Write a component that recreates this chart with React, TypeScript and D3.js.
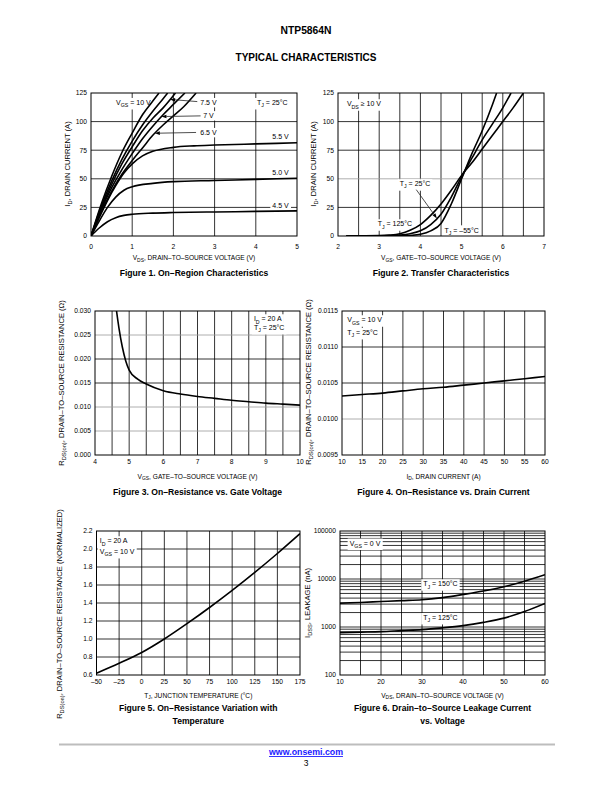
import React, { useLayoutEffect, useRef, useState } from "react";
import * as d3 from "d3";

type Pt = [number, number];
const FONT = "'Liberation Sans', Arial, Helvetica, sans-serif";

// ---------- Figure 1: On-Region Characteristics (ID [A] vs VDS [V]) ----------
const f1Vgs10: Pt[] = [[0,0],[0.25,28],[0.5,52],[0.75,73],[1,90],[1.25,106],[1.5,118],[1.65,125]];
const f1Vgs8: Pt[] = [[0,0],[0.25,26],[0.5,48],[0.75,67],[1,83],[1.25,97],[1.5,109],[1.75,120],[1.86,125]];
const f1Vgs75: Pt[] = [[0,0],[0.25,24],[0.5,45],[0.75,63],[1,78],[1.25,92],[1.5,103],[1.75,112],[2.05,125]];
const f1Vgs7: Pt[] = [[0,0],[0.25,23],[0.5,42],[0.75,58],[1,72],[1.25,85],[1.5,96],[1.75,106],[2,115],[2.28,125]];
const f1Vgs65: Pt[] = [[0,0],[0.25,21],[0.5,39],[0.75,54],[1,66],[1.25,77],[1.5,88],[1.75,97],[2,105],[2.25,113],[2.55,125]];
const f1Vgs55: Pt[] = [[0,0],[0.2,16],[0.4,31],[0.6,44],[0.8,55],[1,63],[1.25,70],[1.5,74],[2,77.5],[2.5,78.8],[3,79.5],[4,80.5],[5,81.5]];
const f1Vgs50: Pt[] = [[0,0],[0.2,13],[0.4,25],[0.6,34],[0.8,40],[1,43],[1.5,46],[2,47.5],[3,48.5],[4,49.5],[5,50.5]];
const f1Vgs45: Pt[] = [[0,0],[0.2,7],[0.4,12.5],[0.6,16],[0.8,18],[1,19],[1.5,20],[2,20.5],[3,21],[4,21.5],[5,22]];
const f1XTicks = [0, 1, 2, 3, 4, 5];
const f1YTicks = [0, 25, 50, 75, 100, 125];
const f1XGrid = [1, 2, 3, 4];
const f1YGrid = [25, 50, 75, 100];

// ---------- Figure 2: Transfer Characteristics (ID [A] vs VGS [V]) ----------
const f2Tj125: Pt[] = [[2.2,0],[3,0.3],[3.25,0.8],[3.5,2],[3.75,5],[4,10],[4.25,18],[4.5,28],[4.75,40],[5,53],[5.25,64],[5.5,76],[5.75,88],[6,100],[6.25,112],[6.5,125]];
const f2Tj25: Pt[] = [[2.2,0],[3,0.1],[3.25,0.3],[3.5,0.8],[3.75,2],[4,4.5],[4.25,10],[4.5,19],[4.75,34],[5,52],[5.25,68],[5.5,84],[5.75,98],[6,112],[6.2,125]];
const f2TjM55: Pt[] = [[2.2,0],[3.5,0.1],[3.75,0.5],[4,1.5],[4.25,4.5],[4.5,11],[4.75,28],[5,50],[5.25,72],[5.5,92],[5.75,115],[5.85,125]];
const f2XTicks = [2, 3, 4, 5, 6, 7];
const f2YTicks = [0, 25, 50, 75, 100, 125];
const f2XGrid = [2.5, 3, 3.5, 4, 4.5, 5, 5.5, 6, 6.5];
const f2YGrid = [25, 50, 75, 100];

// ---------- Figure 3: RDS(on) [ohm] vs VGS [V] ----------
const f3Rds: Pt[] = [[4.63,0.030],[4.7,0.0265],[4.8,0.0225],[4.9,0.0196],[5,0.0177],[5.25,0.0158],[5.5,0.0148],[6,0.0134],[6.5,0.0127],[7,0.0122],[7.5,0.0118],[8,0.0114],[8.5,0.0111],[9,0.0108],[9.5,0.0106],[10,0.0104]];
const f3XTicks = [4, 5, 6, 7, 8, 9, 10];
const f3YTicks = [0, 0.005, 0.01, 0.015, 0.02, 0.025, 0.03];
const f3XGrid = [4.5, 5, 5.5, 6, 6.5, 7, 7.5, 8, 8.5, 9, 9.5];
const f3YGrid = [0.005, 0.01, 0.015, 0.02, 0.025];

// ---------- Figure 4: RDS(on) [ohm] vs ID [A] ----------
const f4Rds: Pt[] = [[10,0.01032],[15,0.01034],[20,0.01036],[25,0.01039],[30,0.01042],[35,0.01044],[40,0.01047],[45,0.0105],[50,0.01053],[55,0.01056],[60,0.01059]];
const f4XTicks = [10, 15, 20, 25, 30, 35, 40, 45, 50, 55, 60];
const f4YTicks = [0.0095, 0.01, 0.0105, 0.011, 0.0115];
const f4XGrid = [15, 20, 25, 30, 35, 40, 45, 50, 55];
const f4YGrid = [0.01, 0.0105, 0.011];

// ---------- Figure 5: normalized RDS(on) vs TJ [°C] ----------
const f5Norm: Pt[] = [[-50,0.62],[-25,0.73],[0,0.85],[25,1.0],[50,1.17],[75,1.35],[100,1.54],[125,1.74],[150,1.95],[175,2.17]];
const f5XTicks = [-50, -25, 0, 25, 50, 75, 100, 125, 150, 175];
const f5YTicks = [0.6, 0.8, 1.0, 1.2, 1.4, 1.6, 1.8, 2.0, 2.2];
const f5XGrid = [-25, 0, 25, 50, 75, 100, 125, 150];
const f5YGrid = [0.8, 1.0, 1.2, 1.4, 1.6, 1.8, 2.0];

// ---------- Figure 6: IDSS [nA] vs VDS [V] ----------
const f6Tj150: Pt[] = [[10,3150],[15,3250],[20,3400],[25,3550],[30,3700],[35,4100],[40,4750],[45,5600],[50,6900],[55,9000],[60,12300]];
const f6Tj125: Pt[] = [[10,760],[15,780],[20,800],[25,840],[30,880],[35,960],[40,1070],[45,1250],[50,1530],[55,2100],[60,3100]];
const f6XTicks = [10, 20, 30, 40, 50, 60];
const f6YTicks = [100, 1000, 10000, 100000];
const f6XGrid = [15, 20, 25, 30, 35, 40, 45, 50, 55];
const f6Decades = [100, 1000, 10000];
const f6Multipliers = [1, 2, 3, 4, 5, 6, 7, 8, 9];

interface LabelCfg { text: string; x: number; y: number; anchor?: "start" | "middle" | "end"; box?: boolean; }
interface ArrowCfg { from: Pt; toX: number; series: Pt[]; }
interface ChartCfg {
  left: number; right: number; top: number; bottom: number;
  xDomain: [number, number]; yDomain: [number, number]; yLog?: boolean;
  xGrid: number[]; yGrid: number[]; grayY?: number[];
  xTicks: number[]; yTicks: number[];
  xFmt: (v: number) => string; yFmt: (v: number) => string;
  series: Pt[][];
  labels: LabelCfg[]; arrows: ArrowCfg[];
  xTitle: string; yTitle: string; yTitleX: number; yTitleCY: number;
  tickY: number; titleY: number; caption: string[]; captionY: number;
}

const TICK_FS = 6.7;
const TITLE_FS = 6.6;
const YTITLE_FS = 7.6;
const LABEL_FS = 7.0;
const CAP_FS = 8.6;

function rich(text: string, fs: number) {
  const parts = text.split(/(_\{[^}]*\})/).filter((p) => p.length > 0);
  const out: React.ReactNode[] = [];
  let down = false;
  const sh = fs * 0.3;
  parts.forEach((p, i) => {
    if (p.startsWith("_{")) {
      out.push(<tspan key={i} fontSize={fs * 0.75} dy={sh}>{p.slice(2, -1)}</tspan>);
      down = true;
    } else {
      out.push(<tspan key={i} dy={down ? -sh : 0}>{p}</tspan>);
      down = false;
    }
  });
  return out;
}

function interpAt(s: Pt[], xv: number): number {
  for (let i = 0; i < s.length - 1; i++) {
    if (xv >= s[i][0] && xv <= s[i + 1][0]) {
      const t = (xv - s[i][0]) / (s[i + 1][0] - s[i][0]);
      return s[i][1] + t * (s[i + 1][1] - s[i][1]);
    }
  }
  return s[s.length - 1][1];
}

function LabelBox({ x, y, anchor, text }: { x: number; y: number; anchor: string; text: string }) {
  const ref = useRef<SVGTextElement>(null);
  const [b, setB] = useState<{ x: number; y: number; w: number; h: number } | null>(null);
  useLayoutEffect(() => {
    if (ref.current) {
      const r = ref.current.getBBox();
      setB({ x: r.x, y: r.y, w: r.width, h: r.height });
    }
  }, [x, y, text]);
  return (
    <g>
      {b && <rect x={b.x - 2} y={b.y - 1.2} width={b.w + 4} height={b.h + 2.4} fill="#fff" />}
      <text ref={ref} x={x} y={y} textAnchor={anchor as any} fontSize={LABEL_FS} fontFamily={FONT} opacity={0} style={{ whiteSpace: "pre" }}>
        {rich(text, LABEL_FS)}
      </text>
    </g>
  );
}

function Chart({ c, id }: { c: ChartCfg; id: string }) {
  const x = d3.scaleLinear().domain(c.xDomain).range([c.left, c.right]);
  const y = (c.yLog ? d3.scaleLog() : d3.scaleLinear()).domain(c.yDomain).range([c.bottom, c.top]);
  const line = d3.line<Pt>().x((d) => x(d[0])).y((d) => y(d[1])).curve(d3.curveMonotoneX);
  const w = c.right - c.left;
  const h = c.bottom - c.top;
  return (
    <g>
      <defs>
        <clipPath id={id}>
          <rect x={c.left} y={c.top} width={w} height={h} />
        </clipPath>
      </defs>
      {c.xGrid.map((v) => (
        <line key={"xg" + v} x1={x(v)} x2={x(v)} y1={c.top} y2={c.bottom} stroke="#000" strokeWidth={0.8} />
      ))}
      {c.yGrid.map((v) => (
        <line key={"yg" + v} x1={c.left} x2={c.right} y1={y(v)} y2={y(v)}
          stroke={c.grayY && c.grayY.some((g) => Math.abs(g - v) < 1e-9) ? "#9a9a9a" : "#000"} strokeWidth={0.8} />
      ))}
      {c.labels.filter((l) => l.box).map((l, i) => (
        <LabelBox key={"lb" + i} x={x(l.x)} y={y(l.y) + LABEL_FS * 0.35} anchor={l.anchor || "middle"} text={l.text} />
      ))}
      <rect x={c.left} y={c.top} width={w} height={h} fill="none" stroke="#000" strokeWidth={1} />
      <g clipPath={`url(#${id})`}>
        {c.series.map((s, i) => (
          <path key={"s" + i} d={line(s) || ""} fill="none" stroke="#000" strokeWidth={1.6} strokeLinejoin="round" />
        ))}
      </g>
      {c.arrows.map((a, i) => {
        const x1 = x(a.from[0]);
        const y1 = y(a.from[1]);
        const x2 = x(a.toX);
        const y2 = y(interpAt(a.series, a.toX));
        const ang = Math.atan2(y2 - y1, x2 - x1);
        const L = 5, Wd = 1.8;
        const bx = x2 - L * Math.cos(ang), by = y2 - L * Math.sin(ang);
        const p1 = [bx + Wd * Math.sin(ang), by - Wd * Math.cos(ang)];
        const p2 = [bx - Wd * Math.sin(ang), by + Wd * Math.cos(ang)];
        return (
          <g key={"a" + i}>
            <line x1={x1} y1={y1} x2={bx} y2={by} stroke="#222" strokeWidth={0.8} />
            <path d={`M${x2},${y2}L${p1[0]},${p1[1]}L${p2[0]},${p2[1]}Z`} fill="#000" />
          </g>
        );
      })}
      {c.labels.map((l, i) => (
        <text key={"lt" + i} x={x(l.x)} y={y(l.y) + LABEL_FS * 0.35} textAnchor={l.anchor || "middle"} fontSize={LABEL_FS} fontFamily={FONT} style={{ whiteSpace: "pre" }}>
          {rich(l.text, LABEL_FS)}
        </text>
      ))}
      {c.xTicks.map((v) => (
        <text key={"xt" + v} x={x(v)} y={c.tickY} textAnchor="middle" fontSize={TICK_FS} fontFamily={FONT}>{c.xFmt(v)}</text>
      ))}
      {c.yTicks.map((v) => (
        <text key={"yt" + v} x={c.left - 4} y={y(v) + TICK_FS * 0.35} textAnchor="end" fontSize={TICK_FS} fontFamily={FONT}>{c.yFmt(v)}</text>
      ))}
      <text x={(c.left + c.right) / 2} y={c.titleY} textAnchor="middle" fontSize={TITLE_FS} fontFamily={FONT} style={{ whiteSpace: "pre" }}>
        {rich(c.xTitle, TITLE_FS)}
      </text>
      <text transform={`translate(${c.yTitleX},${c.yTitleCY}) rotate(-90)`} textAnchor="middle" fontSize={YTITLE_FS} fontFamily={FONT} style={{ whiteSpace: "pre" }}>
        {rich(c.yTitle, YTITLE_FS)}
      </text>
      {c.caption.map((t, i) => (
        <text key={"c" + i} x={(c.left + c.right) / 2} y={c.captionY + i * 12.8} textAnchor="middle" fontSize={CAP_FS} fontWeight="bold" fontFamily={FONT}>{t}</text>
      ))}
    </g>
  );
}

const dash = (v: number) => (v < 0 ? "–" + Math.abs(v) : String(v));

const fig1: ChartCfg = {
  left: 91, right: 297, top: 93, bottom: 236,
  xDomain: [0, 5], yDomain: [0, 125],
  xGrid: f1XGrid, yGrid: f1YGrid,
  xTicks: f1XTicks, yTicks: f1YTicks, xFmt: String, yFmt: String,
  series: [f1Vgs10, f1Vgs8, f1Vgs75, f1Vgs7, f1Vgs65, f1Vgs55, f1Vgs50, f1Vgs45],
  labels: [
    { text: "V_{GS} = 10 V", x: 1.03, y: 116.5, box: true },
    { text: "T_{J} = 25°C", x: 4.4, y: 116.5, box: true },
    { text: "7.5 V", x: 2.85, y: 116.5, box: true },
    { text: "7 V", x: 2.85, y: 105, box: true },
    { text: "6.5 V", x: 2.85, y: 90.3, box: true },
    { text: "5.5 V", x: 4.6, y: 86.8, box: true },
    { text: "5.0 V", x: 4.6, y: 55.2, box: true },
    { text: "4.5 V", x: 4.6, y: 26.8, box: true },
  ],
  arrows: [
    { from: [2.58, 117.5], toX: 1.92, series: f1Vgs75 },
    { from: [2.66, 105], toX: 1.71, series: f1Vgs7 },
    { from: [2.55, 90.5], toX: 1.55, series: f1Vgs65 },
  ],
  xTitle: "V_{DS}, DRAIN–TO–SOURCE VOLTAGE (V)", yTitle: "I_{D}, DRAIN CURRENT (A)", yTitleX: 70, yTitleCY: 164,
  tickY: 248.5, titleY: 260, caption: ["Figure 1. On–Region Characteristics"], captionY: 275.5,
};

const fig2: ChartCfg = {
  left: 338, right: 544, top: 93, bottom: 236,
  xDomain: [2, 7], yDomain: [0, 125],
  xGrid: f2XGrid, yGrid: f2YGrid, grayY: [50],
  xTicks: f2XTicks, yTicks: f2YTicks, xFmt: String, yFmt: String,
  series: [f2Tj125, f2Tj25, f2TjM55],
  labels: [
    { text: "V_{DS} ≥ 10 V", x: 2.63, y: 115.4, box: true },
    { text: "T_{J} = 25°C", x: 3.87, y: 45.5, box: true },
    { text: "T_{J} = 125°C", x: 3.38, y: 10.5, box: true },
    { text: "T_{J} = –55°C", x: 5.0, y: 5.2, box: true },
  ],
  arrows: [{ from: [3.9, 40.5], toX: 4.4, series: f2Tj25 }],
  xTitle: "V_{GS}, GATE–TO–SOURCE VOLTAGE (V)", yTitle: "I_{D}, DRAIN CURRENT (A)", yTitleX: 315.5, yTitleCY: 164,
  tickY: 248.5, titleY: 260, caption: ["Figure 2. Transfer Characteristics"], captionY: 275.5,
};

const fig3: ChartCfg = {
  left: 95, right: 300, top: 311, bottom: 455,
  xDomain: [4, 10], yDomain: [0, 0.03],
  xGrid: f3XGrid, yGrid: f3YGrid, grayY: [0.025, 0.01, 0.005],
  xTicks: f3XTicks, yTicks: f3YTicks, xFmt: String, yFmt: d3.format(".3f"),
  series: [f3Rds],
  labels: [
    { text: "I_{D} = 20 A", x: 8.65, y: 0.02833, anchor: "start", box: true },
    { text: "T_{J} = 25°C", x: 8.65, y: 0.02652, anchor: "start", box: true },
  ],
  arrows: [],
  xTitle: "V_{GS}, GATE–TO–SOURCE VOLTAGE (V)", yTitle: "R_{DS(on)}, DRAIN–TO–SOURCE RESISTANCE (Ω)", yTitleX: 64, yTitleCY: 383,
  tickY: 463.5, titleY: 478.5, caption: ["Figure 3. On–Resistance vs. Gate Voltage"], captionY: 494.5,
};

const fig4: ChartCfg = {
  left: 342, right: 545, top: 311, bottom: 455,
  xDomain: [10, 60], yDomain: [0.0095, 0.0115],
  xGrid: f4XGrid, yGrid: f4YGrid, grayY: [0.01],
  xTicks: f4XTicks, yTicks: f4YTicks, xFmt: String, yFmt: d3.format(".4f"),
  series: [f4Rds],
  labels: [
    { text: "V_{GS} = 10 V", x: 11.3, y: 0.011375, anchor: "start", box: true },
    { text: "T_{J} = 25°C", x: 11.3, y: 0.011199, anchor: "start", box: true },
  ],
  arrows: [],
  xTitle: "I_{D}, DRAIN CURRENT (A)", yTitle: "R_{DS(on)}, DRAIN–TO–SOURCE RESISTANCE (Ω)", yTitleX: 311, yTitleCY: 382,
  tickY: 463.5, titleY: 478.5, caption: ["Figure 4. On–Resistance vs. Drain Current"], captionY: 494.5,
};

const fig5: ChartCfg = {
  left: 96.5, right: 300, top: 531, bottom: 675,
  xDomain: [-50, 175], yDomain: [0.6, 2.2],
  xGrid: f5XGrid, yGrid: f5YGrid,
  xTicks: f5XTicks, yTicks: f5YTicks, xFmt: dash, yFmt: d3.format(".1f"),
  series: [f5Norm],
  labels: [
    { text: "I_{D} = 20 A", x: -46.4, y: 2.089, anchor: "start", box: true },
    { text: "V_{GS} = 10 V", x: -46.4, y: 1.97, anchor: "start", box: true },
  ],
  arrows: [],
  xTitle: "T_{J}, JUNCTION TEMPERATURE (°C)", yTitle: "R_{DS(on)}, DRAIN–TO–SOURCE RESISTANCE (NORMALIZED)", yTitleX: 62, yTitleCY: 614,
  tickY: 683.5, titleY: 697.5, caption: ["Figure 5. On–Resistance Variation with", "Temperature"], captionY: 711,
};

const f6YGrid = f6Decades.flatMap((d) => f6Multipliers.map((m) => d * m)).filter((v) => v > 100);

const fig6: ChartCfg = {
  left: 340, right: 545, top: 531, bottom: 675,
  xDomain: [10, 60], yDomain: [100, 100000], yLog: true,
  xGrid: f6XGrid, yGrid: f6YGrid,
  xTicks: f6XTicks, yTicks: f6YTicks, xFmt: String, yFmt: String,
  series: [f6Tj150, f6Tj125],
  labels: [
    { text: "V_{GS} = 0 V", x: 16.1, y: 55460, box: true },
    { text: "T_{J} = 150°C", x: 34.5, y: 7870, box: true },
    { text: "T_{J} = 125°C", x: 34.5, y: 1563, box: true },
  ],
  arrows: [],
  xTitle: "V_{DS}, DRAIN–TO–SOURCE VOLTAGE (V)", yTitle: "I_{DSS}, LEAKAGE (nA)", yTitleX: 310, yTitleCY: 603,
  tickY: 683.5, titleY: 697.5, caption: ["Figure 6. Drain–to–Source Leakage Current", "vs. Voltage"], captionY: 711,
};

export default function App() {
  return (
    <svg width={612} height={792} viewBox="0 0 612 792" style={{ position: "absolute", left: 0, top: 0, background: "#fff" }}>
      <rect x={0} y={0} width={612} height={792} fill="#fff" />
      <text x={306} y={33.5} textAnchor="middle" fontSize={10.3} fontWeight="bold" fontFamily={FONT}>NTP5864N</text>
      <text x={306} y={60.5} textAnchor="middle" fontSize={10} fontWeight="bold" fontFamily={FONT}>TYPICAL CHARACTERISTICS</text>
      <Chart c={fig1} id="clip1" />
      <Chart c={fig2} id="clip2" />
      <Chart c={fig3} id="clip3" />
      <Chart c={fig4} id="clip4" />
      <Chart c={fig5} id="clip5" />
      <Chart c={fig6} id="clip6" />
      <line x1={59} x2={555} y1={744.5} y2={744.5} stroke="#bdbdbd" strokeWidth={2} />
      <text x={306} y={755} textAnchor="middle" fontSize={8.8} fontWeight="bold" fontFamily={FONT} fill="#1a1aff" textDecoration="underline">www.onsemi.com</text>
      <text x={306} y={765.5} textAnchor="middle" fontSize={8.5} fontFamily={FONT}>3</text>
    </svg>
  );
}
